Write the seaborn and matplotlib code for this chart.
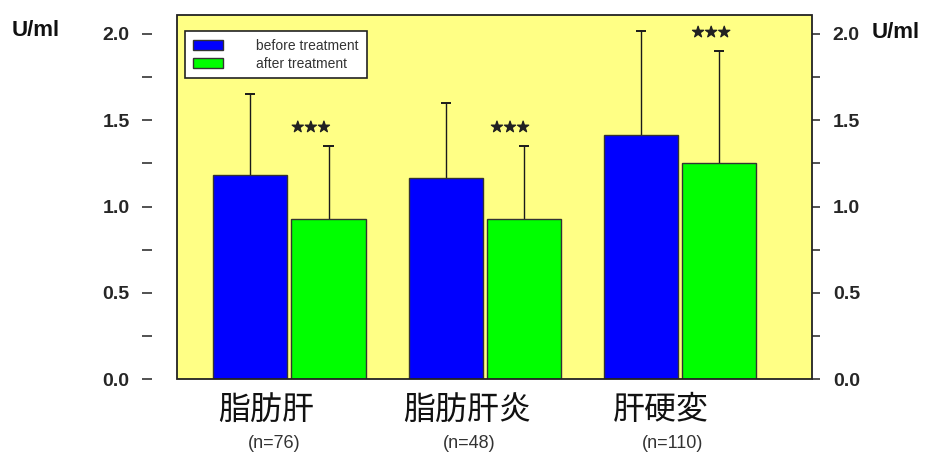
import matplotlib
matplotlib.use("Agg")
import matplotlib.pyplot as plt
import matplotlib.patheffects as pe
from matplotlib.patches import Rectangle
from matplotlib.ticker import MultipleLocator
import seaborn as sns
import pandas as pd

# --- data -------------------------------------------------------------
groups = ["脂肪肝", "脂肪肝炎", "肝硬変"]
n_labels = ["(n=76)", "(n=48)", "(n=110)"]
treatments = ["before treatment", "after treatment"]
before_mean = [1.18, 1.165, 1.415]
before_sd = [0.47, 0.435, 0.605]
after_mean = [0.93, 0.93, 1.25]
after_sd = [0.42, 0.42, 0.65]
stars = ["★★★", "★★★", "★★★"]

df = pd.DataFrame({
    "group": groups * 2,
    "treatment": [treatments[0]] * 3 + [treatments[1]] * 3,
    "value": before_mean + after_mean,
})
sds = {treatments[0]: before_sd, treatments[1]: after_sd}

# --- style ------------------------------------------------------------
sns.set_style("white")
plt.rcParams["font.family"] = ["Liberation Sans", "Noto Sans CJK JP", "DejaVu Sans"]
BLUE, GREEN, BG = "#0000FF", "#00FF00", "#FFFF85"
INK = "#1a1a1a"

fig = plt.figure(figsize=(9.28, 4.55), dpi=100)
ax = fig.add_axes([0.1907, 0.167, 0.6843, 0.800])
ax.set_facecolor(BG)

sns.barplot(data=df, x="group", y="value", hue="treatment",
            palette=[BLUE, GREEN], width=0.8, gap=0.05,
            edgecolor="#333333", linewidth=1.0, errorbar=None,
            saturation=1, ax=ax, zorder=3)

# one-sided (upper) error bars
cap_half = 0.026
for cont, trt in zip(ax.containers, treatments):
    for bar, sd in zip(cont, sds[trt]):
        xc = bar.get_x() + bar.get_width() / 2
        top = bar.get_height()
        ax.vlines(xc, top, top + sd, color=INK, lw=1.0, zorder=2)
        ax.hlines(top + sd, xc - cap_half, xc + cap_half, color=INK, lw=1.4, zorder=2)

# significance stars above the "after" bars
star_dx = [-0.09, -0.07, -0.04]
for bar, sd, s, dx in zip(ax.containers[1], after_sd, stars, star_dx):
    xc = bar.get_x() + bar.get_width() / 2 + dx
    ax.text(xc, bar.get_height() + sd + 0.11, s, ha="center", va="center",
            fontsize=10.5, family=["DejaVu Sans"], color="#222222", zorder=4,
            path_effects=[pe.withStroke(linewidth=0.9, foreground="#222222")])

ax.set_xlim(-0.576, 2.676)
ax.set_ylim(0, 2.11)
ax.set_xlabel("")
ax.set_ylabel("")
ax.set_xticks([])

# left axis: ticks set away from the plotting area, no spine line
ax.spines["left"].set_position(("outward", 18))
ax.spines["left"].set_visible(False)
for side in ["top", "right", "bottom"]:
    ax.spines[side].set_visible(False)
ax.add_patch(Rectangle((0, 0), 1, 1, transform=ax.transAxes, fill=False,
                       edgecolor="#222222", lw=1.3, zorder=5, clip_on=False))

ax.yaxis.set_major_locator(MultipleLocator(0.5))
ax.yaxis.set_minor_locator(MultipleLocator(0.25))
ax.yaxis.set_major_formatter(plt.FormatStrFormatter("%.1f"))
ax.tick_params(axis="y", which="both", direction="out", length=7, width=1.1,
               color="#222222", left=True)
ax.tick_params(axis="y", which="major", labelsize=14, pad=9)
for t in ax.get_yticklabels():
    t.set_fontweight("bold")

# right axis mirrors the scale
rax = ax.twinx()
rax.set_ylim(ax.get_ylim())
for side in rax.spines:
    rax.spines[side].set_visible(False)
rax.yaxis.set_major_locator(MultipleLocator(0.5))
rax.yaxis.set_minor_locator(MultipleLocator(0.25))
rax.yaxis.set_major_formatter(plt.FormatStrFormatter("%.1f"))
rax.tick_params(axis="y", which="both", direction="out", length=6, width=1.1,
                color="#222222", right=True)
rax.tick_params(axis="y", which="major", labelsize=14, pad=9)
for t in rax.get_yticklabels():
    t.set_fontweight("bold")

# unit labels
fig.text(12 / 928, 1 - 31 / 455, "U/ml", fontsize=16, fontweight="bold",
         ha="left", va="center", color="#111111")
fig.text(872 / 928, 1 - 33 / 455, "U/ml", fontsize=16, fontweight="bold",
         ha="left", va="center", color="#111111")

# category labels with group sizes
lab_dx = [-0.12, -0.09, -0.10]
n_dx = [-0.08, -0.08, -0.04]
trans = ax.get_xaxis_transform()
for i, (g, n) in enumerate(zip(groups, n_labels)):
    ax.text(i + lab_dx[i], -0.085, g, transform=trans, ha="center", va="center",
            fontsize=23, family=["Noto Sans CJK JP"], color="#111111")
    ax.text(i + n_dx[i], -0.176, n, transform=trans, ha="center", va="center",
            fontsize=13, color="#333333")

# legend
handles, labels = ax.get_legend_handles_labels()
if ax.get_legend() is not None:
    ax.get_legend().remove()
leg = ax.legend(handles, labels, loc="upper left",
                bbox_to_anchor=(0.0126, 0.956), borderaxespad=0,
                fontsize=10, frameon=True, fancybox=False, framealpha=1,
                facecolor="white", edgecolor="#222222",
                handlelength=2.2, handleheight=0.75, handletextpad=2.4,
                labelspacing=0.3, borderpad=0.55)
leg.get_frame().set_linewidth(1.2)
for t in leg.get_texts():
    t.set_color("#333333")
leg.set_zorder(6)

fig.savefig("out.png", dpi=100, facecolor="white")
